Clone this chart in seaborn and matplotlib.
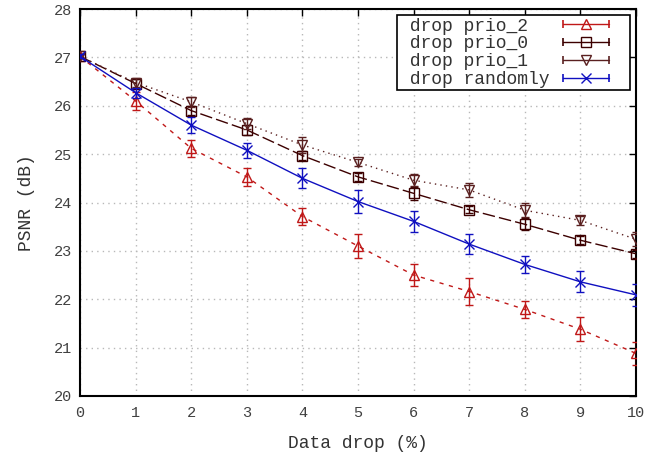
import matplotlib
matplotlib.use("Agg")
import matplotlib.pyplot as plt
import seaborn as sns
import numpy as np
from matplotlib.lines import Line2D
from matplotlib.legend_handler import HandlerLine2D

sns.set_theme(style="white")
plt.rcParams['font.family'] = ['Liberation Mono', 'DejaVu Sans Mono']

# data
drop = [0, 1, 2, 3, 4, 5, 6, 7, 8, 9, 10]

prio2 = [27.02, 26.10, 25.12, 24.53, 23.71, 23.10, 22.50, 22.16, 21.79, 21.38, 20.88]
prio2_err = [0.04, 0.18, 0.18, 0.18, 0.18, 0.25, 0.22, 0.27, 0.17, 0.25, 0.24]

prio0 = [27.02, 26.46, 25.90, 25.50, 24.97, 24.53, 24.19, 23.85, 23.55, 23.22, 22.94]
prio0_err = [0.04, 0.10, 0.10, 0.10, 0.10, 0.08, 0.13, 0.07, 0.12, 0.08, 0.08]

prio1 = [27.02, 26.48, 26.08, 25.63, 25.19, 24.83, 24.46, 24.26, 23.84, 23.63, 23.24]
prio1_err = [0.04, 0.10, 0.10, 0.12, 0.16, 0.07, 0.12, 0.14, 0.14, 0.10, 0.14]

rand = [27.02, 26.27, 25.60, 25.08, 24.50, 24.02, 23.61, 23.14, 22.72, 22.36, 22.09]
rand_err = [0.04, 0.10, 0.17, 0.15, 0.21, 0.24, 0.21, 0.21, 0.17, 0.22, 0.23]

labels = ['drop prio_2', 'drop prio_0', 'drop prio_1', 'drop randomly']

series = [
    (prio2, prio2_err, '#c01818', '^', (0, (3, 4))),
    (prio0, prio0_err, '#3c0000', 's', (0, (9, 3))),
    (prio1, prio1_err, '#5a2020', 'v', (0, (1, 3))),
    (rand, rand_err, '#1010c0', 'x', '-'),
]

RIGHT_GAP = 13  # px kept free on the right of the key sample


class CapHandler(HandlerLine2D):
    """gnuplot-like key sample: line with caps, left-shifted"""
    def __init__(self, center=False, **kw):
        super().__init__(**kw)
        self.center = center

    def get_xdata(self, legend, xdescent, ydescent, width, height, fontsize):
        x0 = -xdescent
        x1 = -xdescent + width - RIGHT_GAP
        if self.center:
            xm = np.array([(x0 + x1) / 2])
            return xm, xm
        xs = np.array([x0, x1])
        return xs, xs


fig = plt.figure(figsize=(6.64, 4.58), dpi=100)
ax = fig.add_axes([0.1205, 0.1354, 0.8373, 0.8449])

handles = []
handler_map = {}
for (vals, err, color, marker, ls), label in zip(series, labels):
    sns.lineplot(x=drop, y=vals, ax=ax, color=color, linestyle=ls, linewidth=1,
                 marker=marker, markersize=7, markerfacecolor='none',
                 markeredgecolor=color, markeredgewidth=1, legend=False, zorder=3)
    ax.errorbar(drop, vals, yerr=err, fmt='none', ecolor=color, elinewidth=1,
                capsize=3, capthick=1, zorder=3)
    caps = Line2D([], [], color=color, linewidth=1, marker='|', markersize=6,
                  markeredgewidth=1.2, markeredgecolor=color)
    mark = Line2D([], [], color=color, linestyle='none', marker=marker, markersize=6.5,
                  markerfacecolor='none', markeredgewidth=1, markeredgecolor=color)
    handler_map[caps] = CapHandler(center=False, numpoints=2)
    handler_map[mark] = CapHandler(center=True, numpoints=1)
    handles.append((caps, mark))

ax.set_xlim(0, 10)
ax.set_ylim(20, 28)
ax.set_xticks(range(0, 11))
ax.set_yticks(range(20, 29))
ax.grid(True, color='#b8b8b8', linestyle=(0, (1, 3)), linewidth=1)
ax.set_axisbelow(True)
for s in ax.spines.values():
    s.set_color('black')
    s.set_linewidth(1.5)
ax.tick_params(direction='in', length=5, width=1, top=True, right=True,
               labelsize=11, colors='black')
ax.tick_params(axis='x', pad=7)
ax.tick_params(axis='y', pad=6)
for t in ax.get_xticklabels() + ax.get_yticklabels():
    t.set_color('#404040')

ax.set_xlabel('Data drop (%)', fontsize=13, color='#333333', labelpad=11)
ax.set_ylabel('PSNR (dB)', fontsize=13, color='#333333', labelpad=13)

# pad labels so the monospace texts line up on the left
width = max(len(l) for l in labels)
leg_labels = [' ' + l.ljust(width) for l in labels]
leg = ax.legend(handles, leg_labels, loc='upper right', handler_map=handler_map,
                markerfirst=False, fontsize=13, frameon=True, fancybox=False,
                edgecolor='black', framealpha=1, labelspacing=0.05,
                handlelength=3.55, handletextpad=0.78, borderpad=0.12,
                borderaxespad=0.35)
leg.get_frame().set_linewidth(1.2)
for t in leg.get_texts():
    t.set_color('#333333')

fig.savefig('out.png', dpi=100, facecolor='white')
